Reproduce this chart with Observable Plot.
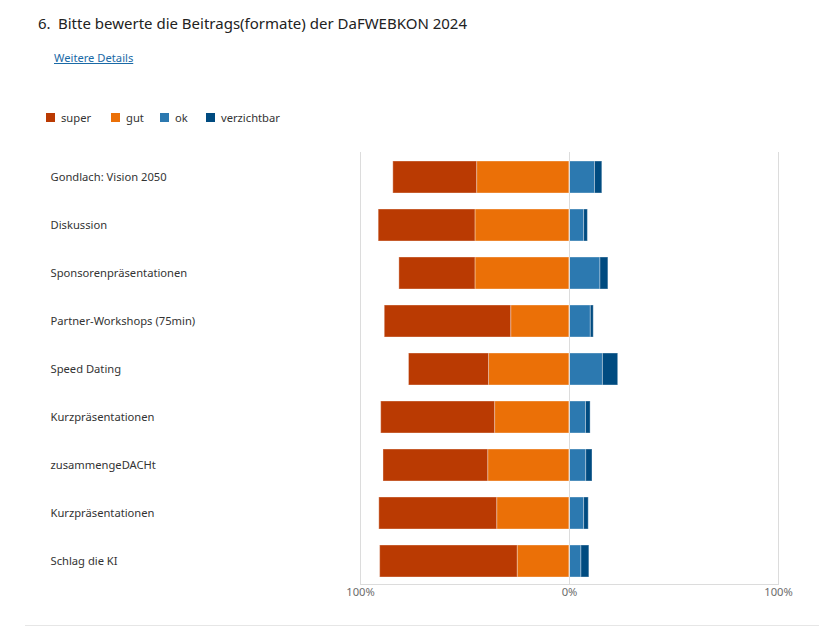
<!DOCTYPE html>
<html>
<head>
<meta charset="utf-8">
<script src="https://cdn.jsdelivr.net/npm/d3@7"></script>
<script src="https://cdn.jsdelivr.net/npm/@observablehq/plot@0.6"></script>
<style>
  body { margin: 0; background: #fff; font-family: "Segoe UI", "Noto Sans", sans-serif; }
  #page { position: relative; width: 819px; height: 634px; overflow: hidden; }
  .abs { position: absolute; white-space: nowrap; }
  #num { left: 38px; top: 13px; font-size: 15px; color: #222; }
  #title { left: 58px; top: 13px; font-size: 15px; color: #222; }
  #details { left: 54px; top: 50px; font-size: 11.2px; color: #1a6aa6; text-decoration: underline; }
  .leg { top: 110px; font-size: 11.2px; color: #333; display: flex; align-items: center; }
  .sw { width: 9px; height: 9px; display: inline-block; margin-right: 6px; }
  #chart { left: 0; top: 140px; }
  #bottomline { left: 25px; top: 625px; width: 794px; height: 1px; background: #e6e6e6; }
</style>
</head>
<body>
<div id="page">
  <div id="num" class="abs">6.</div>
  <div id="title" class="abs">Bitte bewerte die Beitrags(formate) der DaFWEBKON 2024</div>
  <div id="details" class="abs">Weitere Details</div>
  <div id="legend"></div>
  <div id="chart" class="abs"></div>
  <div id="bottomline" class="abs"></div>
</div>
<script>
const categories = [
  "Gondlach: Vision 2050",
  "Diskussion",
  "Sponsorenpräsentationen",
  "Partner-Workshops (75min)",
  "Speed Dating",
  "Kurzpräsentationen",
  "zusammengeDACHt",
  "Kurzpräsentationen ",
  "Schlag die KI"
];
const labels = [
  "Gondlach: Vision 2050",
  "Diskussion",
  "Sponsorenpräsentationen",
  "Partner-Workshops (75min)",
  "Speed Dating",
  "Kurzpräsentationen",
  "zusammengeDACHt",
  "Kurzpräsentationen",
  "Schlag die KI"
];
const seriesNames = ["super", "gut", "ok", "verzichtbar"];
const seriesColors = ["#BA3A02", "#EB7007", "#2C79B0", "#004B80"];
const superVals = [40.1, 46.3, 36.4, 60.5, 38.3, 54.5, 50.1, 56.4, 65.8];
const gutVals   = [44.2, 45.0, 45.0, 27.9, 38.5, 35.6, 38.9, 34.6, 24.8];
const okVals    = [12.2,  7.0, 14.8, 10.2, 16.0,  7.9,  8.0,  7.0,  5.7];
const verzVals  = [ 3.5,  1.8,  3.8,  1.4,  7.3,  2.2,  3.0,  2.2,  3.8];
const tickValues = [-100, 0, 100];
const tickLabels = ["100%", "0%", "100%"];

// legend
const legend = document.getElementById("legend");
const legendX = [46, 111, 160, 206];
seriesNames.forEach((name, i) => {
  const d = document.createElement("div");
  d.className = "abs leg";
  d.style.left = legendX[i] + "px";
  d.innerHTML = `<span class="sw" style="background:${seriesColors[i]}"></span>${name}`;
  legend.appendChild(d);
});

// data table (gut before super so gut sits next to zero on the negative side)
const rows = categories.flatMap((c, i) => [
  {cat: c, series: "gut", value: -gutVals[i]},
  {cat: c, series: "super", value: -superVals[i]},
  {cat: c, series: "ok", value: okVals[i]},
  {cat: c, series: "verzichtbar", value: verzVals[i]}
]);
const labelRows = categories.map((c, i) => ({cat: c, label: labels[i]}));
const tickRows = tickValues.map((v, i) => ({v, label: tickLabels[i]}));

const chart = Plot.plot({
  width: 819,
  height: 470,
  marginTop: 12,
  marginBottom: 26,
  marginLeft: 360,
  marginRight: 41,
  style: {fontFamily: '"Segoe UI", "Noto Sans", sans-serif', fontSize: "11.2px", background: "transparent"},
  x: {domain: [-100, 100], axis: null},
  y: {domain: categories, axis: null, paddingInner: 1 / 3, paddingOuter: 1 / 6, align: 0.5625, round: false},
  color: {domain: seriesNames, range: seriesColors},
  marks: [
    Plot.ruleX(tickValues, {stroke: "#dcdcdc", strokeWidth: 1}),
    Plot.frame({anchor: "bottom", stroke: "#dcdcdc"}),
    Plot.barX(rows, Plot.stackX({
      x: "value", y: "cat", fill: "series", order: null,
      stroke: "#fff", strokeOpacity: 0.35, strokeWidth: 1
    })),
    Plot.ruleX([0], {stroke: "#dcdcdc", strokeWidth: 1}),
    Plot.text(tickRows, {x: "v", text: "label", frameAnchor: "bottom", dy: 11, fill: "#6b6b6b", fontSize: 11.2}),
    Plot.text(labelRows, {y: "cat", text: "label", frameAnchor: "left", dx: -310, textAnchor: "start", fill: "#333", fontSize: 11.2})
  ]
});
document.getElementById("chart").appendChild(chart);
</script>
</body>
</html>
